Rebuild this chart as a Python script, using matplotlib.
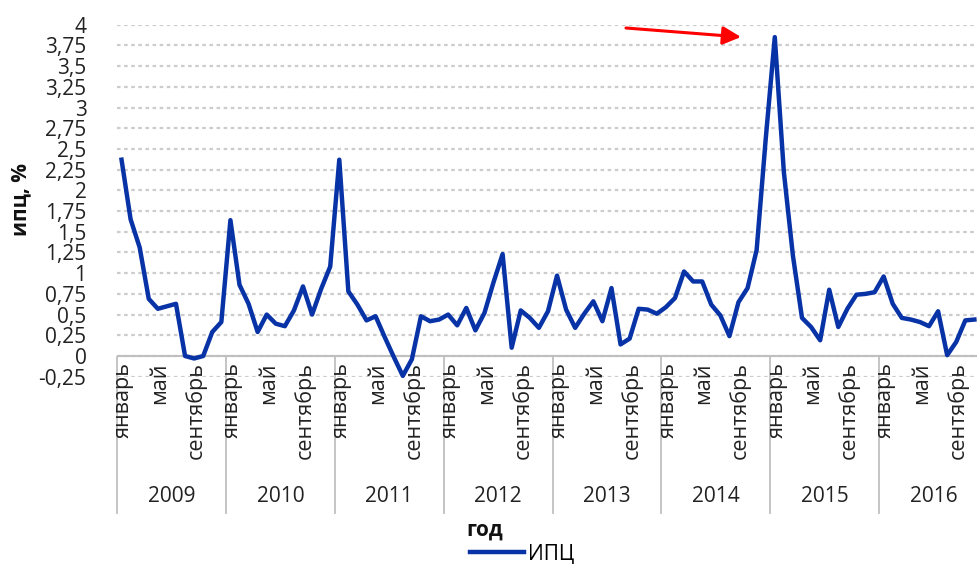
import matplotlib
matplotlib.use("Agg")
import matplotlib.pyplot as plt

plt.rcParams['font.family'] = ['Open Sans', 'DejaVu Sans']

years = ['2009', '2010', '2011', '2012', '2013', '2014', '2015', '2016']
month_labels = ['январь', 'май', 'сентябрь']
month_label_idx = [0, 4, 8]

cpi_2009 = [2.37, 1.65, 1.31, 0.69, 0.57, 0.60, 0.63, 0.00, -0.03, 0.00, 0.29, 0.41]
cpi_2010 = [1.64, 0.86, 0.63, 0.29, 0.50, 0.39, 0.36, 0.55, 0.84, 0.50, 0.81, 1.08]
cpi_2011 = [2.37, 0.78, 0.62, 0.43, 0.48, 0.23, -0.01, -0.24, -0.04, 0.48, 0.42, 0.44]
cpi_2012 = [0.50, 0.37, 0.58, 0.31, 0.52, 0.89, 1.23, 0.10, 0.55, 0.46, 0.34, 0.54]
cpi_2013 = [0.97, 0.56, 0.34, 0.51, 0.66, 0.42, 0.82, 0.14, 0.21, 0.57, 0.56, 0.51]
cpi_2014 = [0.59, 0.70, 1.02, 0.90, 0.90, 0.62, 0.49, 0.24, 0.65, 0.82, 1.28, 2.62]
cpi_2015 = [3.85, 2.22, 1.21, 0.46, 0.35, 0.19, 0.80, 0.35, 0.57, 0.74, 0.75, 0.77]
cpi_2016 = [0.96, 0.63, 0.46, 0.44, 0.41, 0.36, 0.54, 0.01, 0.17, 0.43, 0.44]

y_ticks = [-0.25, 0, 0.25, 0.5, 0.75, 1, 1.25, 1.5, 1.75, 2, 2.25, 2.5, 2.75, 3, 3.25, 3.5, 3.75, 4]
y_tick_labels = ['-0,25', '0', '0,25', '0,5', '0,75', '1', '1,25', '1,5', '1,75', '2',
                 '2,25', '2,5', '2,75', '3', '3,25', '3,5', '3,75', '4']

series = cpi_2009 + cpi_2010 + cpi_2011 + cpi_2012 + cpi_2013 + cpi_2014 + cpi_2015 + cpi_2016
n_cat = 12 * len(years)

W, H = 977, 566
fig = plt.figure(figsize=(W / 100, H / 100), dpi=100)

ax_left, ax_right = 117, 988
ax_top, ax_bottom = 24.7, 376.7
ax = fig.add_axes([ax_left / W, (H - ax_bottom) / H, (ax_right - ax_left) / W, (ax_bottom - ax_top) / H])

ax.set_xlim(-0.5, n_cat - 0.5)
ax.set_ylim(-0.25, 4)
for s in ax.spines.values():
    s.set_visible(False)

ax.set_yticks(y_ticks)
ax.set_yticklabels(y_tick_labels, fontsize=15, color='#222222')
ax.tick_params(axis='y', length=0, pad=22)
ax.set_xticks([])
ax.yaxis.grid(True, color='#cccccc', linestyle=(0, (1.6, 1.6)), linewidth=1.6)
ax.set_axisbelow(True)

# category axis line at 0
ax.axhline(0, color='#bfbfbf', linewidth=1.5, zorder=1)

line, = ax.plot(range(len(series)), series, color='#0833A6', linewidth=3.2, label='ИПЦ',
                clip_on=False, zorder=3, solid_joinstyle='round')

ht = ax.get_xaxis_transform()
axh = ax_bottom - ax_top
y0_frac = (ax_bottom - 356.7) / axh
ysep_bot = (ax_bottom - 513) / axh
for k in range(len(years) + 1):
    ax.plot([12 * k - 0.5, 12 * k - 0.5], [y0_frac, ysep_bot], transform=ht,
            color='#bfbfbf', linewidth=1.3, clip_on=False)

ylab_top = (ax_bottom - 362) / axh
year_y = (ax_bottom - 497) / axh
for k, yr in enumerate(years):
    for lab, mi in zip(month_labels, month_label_idx):
        ax.text(12 * k + mi + 0.2, ylab_top, lab, transform=ht, rotation=90,
                ha='center', va='top', fontsize=15.5, color='#222222')
    ax.text(12 * k + 5.5, year_y, yr, transform=ht, ha='center', va='center',
            fontsize=15, color='#222222')

fig.text(21 / W, (H - 200) / H, 'ипц, %', rotation=90, ha='center', va='center',
         fontsize=15, fontweight='bold', color='#111111')
fig.text(485 / W, (H - 530) / H, 'год', ha='center', va='center',
         fontsize=15, fontweight='bold', color='#111111')

fig.legend(handles=[line], labels=['ИПЦ'], loc='center left',
           bbox_to_anchor=(470 / W, (H - 554) / H), frameon=False, fontsize=15,
           handlelength=2.6, handletextpad=0.2, borderpad=0, borderaxespad=0)

ax.annotate('', xy=(741, H - 37), xytext=(626, H - 28), xycoords='figure pixels',
            textcoords='figure pixels',
            arrowprops=dict(arrowstyle='-|>,head_length=1.1,head_width=0.55',
                            color='#ff0000', linewidth=2.2, mutation_scale=10,
                            shrinkA=0, shrinkB=0))

fig.savefig('out.png', dpi=100)
